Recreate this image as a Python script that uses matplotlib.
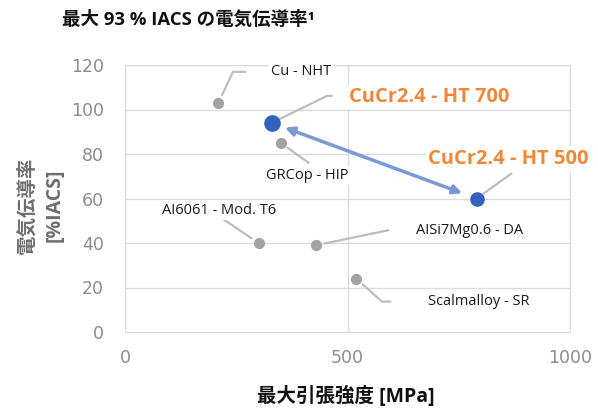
import matplotlib
matplotlib.use("Agg")
import matplotlib.pyplot as plt

plt.rcParams['font.family'] = ['Open Sans', 'Noto Sans CJK JP', 'DejaVu Sans']

# data
names = ['Cu - NHT', 'CuCr2.4 - HT 700', 'GRCop - HIP', 'CuCr2.4 - HT 500',
         'AI6061 - Mod. T6', 'AISi7Mg0.6 - DA', 'Scalmalloy - SR']
uts = [210, 330, 350, 790, 300, 430, 520]          # MPa
cond = [103, 94, 85, 60, 40, 39, 24]                # %IACS
highlight = [False, True, False, True, False, False, False]

x_ticks = [0, 500, 1000]
y_ticks = [0, 20, 40, 60, 80, 100, 120]

# label offsets (px) and leader lines: (end dx, end dy, corner angle or None)
label_off = [(83, 31), (157, 26), (26, -33), (32, 40), (-39, 33), (153, 15), (122, -23)]
leaders = [(27, 31, 65), (60, 27, 26), (28, -20, None), (35, 25, None),
           (-37, 25, None), (72, 15, None), (34, -23, -42)]

fig = plt.figure(figsize=(5.98, 4.09), dpi=100)
ax = fig.add_axes([125/598, 1-332/409, 445/598, 267/409])

grid_c = '#dcdcdc'
ax.set_xlim(0, 1000)
ax.set_ylim(0, 120)
ax.set_xticks(x_ticks)
ax.set_yticks(y_ticks)
ax.grid(True, color=grid_c, lw=1)
ax.set_axisbelow(True)
for s in ax.spines.values():
    s.set_color(grid_c)
ax.tick_params(length=0, labelsize=12.5, labelcolor='#8c8c8c')
ax.tick_params(axis='x', pad=12)
ax.tick_params(axis='y', pad=15)
for t in ax.get_xticklabels() + ax.get_yticklabels():
    t.set_fontfamily('DejaVu Sans')

# leader lines
for i in range(len(names)):
    dx, dy, ang = leaders[i]
    cs = 'arc3' if ang is None else 'angle,angleA=0,angleB=%d,rad=0' % ang
    ax.annotate('', xy=(uts[i], cond[i]), xytext=(dx, dy), textcoords='offset pixels',
                arrowprops=dict(arrowstyle='-', color='#bdbdbd', lw=1.6,
                                shrinkA=0, shrinkB=6, connectionstyle=cs))

# arrow between the two CuCr2.4 states
i7, i5 = names.index('CuCr2.4 - HT 700'), names.index('CuCr2.4 - HT 500')
ax.annotate('', xy=(uts[i5], cond[i5]), xytext=(uts[i7], cond[i7]),
            arrowprops=dict(arrowstyle='<|-|>', color='#7b98d6', lw=2.5,
                            mutation_scale=13, shrinkA=10, shrinkB=11))

gray = [j for j in range(len(names)) if not highlight[j]]
ax.scatter([uts[j] for j in gray], [cond[j] for j in gray], s=50,
           color='#a3a3a3', zorder=3)
ax.scatter([uts[i7]], [cond[i7]], s=120, color='#3461be', zorder=4)
ax.scatter([uts[i5]], [cond[i5]], s=90, color='#3461be', zorder=4)

for i, name in enumerate(names):
    if highlight[i]:
        kw = dict(fontsize=14.5, fontweight='bold', color='#f0883a')
    else:
        kw = dict(fontsize=10.5, color='#1a1a1a')
    ax.annotate(name, xy=(uts[i], cond[i]), xytext=label_off[i],
                textcoords='offset pixels', ha='center', va='center',
                bbox=dict(facecolor='white', edgecolor='none', pad=1.5),
                zorder=5, **kw)

fig.text(62/598, 1-20/409, '最大 93 % IACS の電気伝導率¹', ha='left', va='center',
         fontsize=13.3, fontweight='bold', color='#111111')
fig.text(41/598, 1-205/409, '電気伝導率\n[%IACS]', rotation=90, ha='center',
         va='center', multialignment='center', fontsize=14, fontweight='bold',
         color='#6e6e6e', linespacing=1.5)
fig.text(346/598, 1-396/409, '最大引張強度 [MPa]', ha='center', va='center',
         fontsize=14, fontweight='bold', color='#111111')

fig.savefig('out.png', dpi=100)
